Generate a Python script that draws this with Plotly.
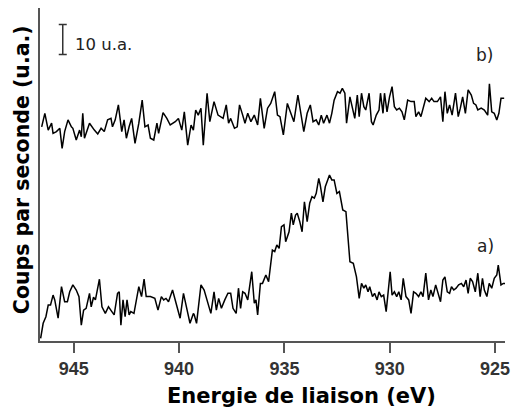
import plotly.graph_objects as go

# spectre b) (haut)
energie_b = [946.52, 946.37, 946.21, 946.05, 945.98, 945.82, 945.66, 945.55, 945.43, 945.27,
             945.11, 945.04, 944.88, 944.72, 944.64, 944.57, 944.49, 944.25, 944.02, 943.86,
             943.70, 943.55, 943.39, 943.23, 943.16, 943.03, 942.88, 942.72, 942.61, 942.50,
             942.37, 942.25, 942.09, 941.91, 941.75, 941.62, 941.47, 941.36, 941.20, 941.05,
             940.97, 940.76, 940.58, 940.42, 940.18, 940.03, 939.87, 939.75, 939.59, 939.43,
             939.32, 939.21, 939.09, 938.96, 938.85, 938.67, 938.54, 938.34, 938.15, 938.02,
             937.91, 937.76, 937.65, 937.55, 937.37, 937.24, 937.13, 936.98, 936.87, 936.74,
             936.59, 936.43, 936.27, 936.14, 935.96, 935.80, 935.65, 935.46, 935.33, 935.21,
             935.05, 934.86, 934.71, 934.55, 934.36, 934.21, 934.08, 933.92, 933.77, 933.64,
             933.49, 933.37, 933.25, 933.14, 932.98, 932.86, 932.75, 932.64, 932.48, 932.36,
             932.25, 932.13, 932.05, 931.89, 931.73, 931.66, 931.54, 931.45, 931.34, 931.23,
             931.14, 930.98, 930.87, 930.79, 930.64, 930.51, 930.44, 930.32, 930.25, 930.13,
             930.01, 929.89, 929.78, 929.67, 929.54, 929.42, 929.31, 929.15, 928.99, 928.84,
             928.76, 928.63, 928.52, 928.42, 928.29, 928.13, 928.01, 927.90, 927.74, 927.59,
             927.48, 927.38, 927.27, 927.16, 927.04, 926.88, 926.75, 926.65, 926.54, 926.41,
             926.28, 926.13, 926.02, 925.91, 925.82, 925.66, 925.51, 925.35, 925.27, 925.16,
             925.04, 924.92, 924.82, 924.72, 924.57]
coups_b = [84.4, 88.9, 83.3, 85.6, 82.2, 82.8, 83.9, 77.2, 82.8, 86.7,
           84.4, 83.9, 80.0, 83.3, 81.1, 88.9, 80.6, 85.6, 83.3, 82.0,
           83.9, 82.8, 86.7, 87.2, 84.4, 86.7, 91.7, 82.8, 86.7, 80.6,
           84.4, 87.2, 78.9, 85.6, 93.3, 84.4, 85.0, 80.6, 80.0, 85.6,
           82.2, 89.1, 87.2, 85.0, 86.1, 87.2, 83.3, 89.4, 78.3, 85.0,
           83.3, 90.0, 88.3, 90.6, 78.3, 95.6, 86.1, 92.8, 88.3, 87.8,
           87.2, 91.7, 85.6, 87.2, 83.9, 84.4, 91.7, 88.3, 85.6, 88.9,
           86.1, 88.3, 85.0, 93.9, 83.9, 90.6, 92.2, 96.1, 88.3, 87.8,
           81.7, 92.2, 88.9, 86.1, 95.0, 88.3, 82.8, 88.9, 91.7, 86.1,
           86.7, 85.0, 88.3, 85.6, 88.3, 85.6, 88.9, 93.3, 96.1, 95.6,
           97.2, 95.6, 85.6, 94.4, 88.9, 87.2, 95.0, 87.8, 95.6, 91.1,
           90.0, 95.6, 86.1, 85.0, 88.3, 90.0, 95.6, 88.9, 95.6, 89.4,
           94.4, 97.8, 91.1, 90.0, 90.6, 89.4, 86.7, 93.3, 92.8, 92.8,
           87.8, 89.4, 87.8, 90.6, 93.9, 92.8, 93.9, 92.8, 92.8, 94.4,
           86.1, 96.1, 88.9, 91.7, 88.3, 95.6, 87.8, 90.6, 94.4, 88.9,
           96.7, 95.0, 92.2, 91.7, 90.0, 90.6, 90.0, 88.3, 98.7, 89.4,
           88.9, 86.7, 88.9, 93.9, 93.9]

# spectre a) (bas)
energie_a = [946.57, 946.45, 946.32, 946.21, 946.10, 945.98, 945.90, 945.74, 945.58, 945.43,
             945.30, 945.19, 945.04, 944.88, 944.75, 944.64, 944.53, 944.41, 944.25, 944.17,
             944.06, 943.97, 943.78, 943.66, 943.50, 943.35, 943.19, 943.08, 942.92, 942.84,
             942.76, 942.66, 942.56, 942.47, 942.37, 942.29, 942.14, 941.91, 941.78, 941.66,
             941.56, 941.36, 941.15, 941.00, 940.84, 940.73, 940.62, 940.50, 940.31, 940.11,
             939.95, 939.79, 939.64, 939.48, 939.32, 939.28, 939.17, 938.96, 938.81, 938.65,
             938.49, 938.34, 938.23, 938.12, 937.99, 937.83, 937.68, 937.55, 937.44, 937.29,
             937.18, 937.08, 936.98, 936.87, 936.74, 936.55, 936.43, 936.35, 936.27, 936.14,
             936.04, 935.88, 935.75, 935.57, 935.46, 935.36, 935.25, 935.14, 935.02, 934.94,
             934.78, 934.67, 934.58, 934.47, 934.39, 934.27, 934.16, 934.05, 933.92, 933.80,
             933.69, 933.58, 933.49, 933.37, 933.30, 933.17, 933.06, 932.86, 932.75, 932.64,
             932.51, 932.39, 932.23, 932.08, 931.89, 931.73, 931.58, 931.45, 931.34, 931.23,
             931.14, 931.03, 930.95, 930.82, 930.72, 930.60, 930.51, 930.40, 930.29, 930.17,
             930.09, 929.98, 929.89, 929.78, 929.67, 929.57, 929.46, 929.36, 929.23, 929.10,
             928.99, 928.87, 928.76, 928.63, 928.52, 928.42, 928.29, 928.16, 928.05, 927.95,
             927.82, 927.69, 927.59, 927.48, 927.38, 927.27, 927.16, 927.07, 926.96, 926.85,
             926.73, 926.60, 926.49, 926.38, 926.28, 926.18, 926.07, 925.94, 925.82, 925.71,
             925.60, 925.51, 925.39, 925.28, 925.16, 925.04, 924.92, 924.85, 924.72, 924.61,
             924.53]
coups_a = [13.9, 18.9, 21.1, 25.0, 25.0, 28.3, 26.7, 20.6, 31.1, 26.1,
           26.1, 29.4, 31.7, 30.0, 27.8, 18.3, 23.3, 23.9, 28.9, 24.4,
           27.6, 26.7, 33.6, 24.4, 22.2, 24.4, 22.8, 21.7, 28.9, 29.4,
           18.3, 26.7, 21.1, 26.7, 21.7, 22.8, 22.2, 31.1, 27.8, 33.6,
           27.8, 27.8, 27.2, 23.3, 27.8, 26.7, 27.2, 26.1, 30.0, 24.4,
           20.6, 28.9, 23.9, 18.9, 22.2, 21.7, 18.9, 31.7, 30.0, 25.6,
           22.2, 29.4, 23.3, 27.2, 23.9, 26.7, 28.9, 28.9, 23.9, 22.2,
           30.6, 23.9, 29.4, 28.9, 26.7, 36.1, 25.6, 26.7, 21.7, 32.2,
           32.2, 35.0, 32.8, 43.3, 42.8, 45.0, 43.9, 51.1, 51.7, 46.1,
           49.4, 55.6, 51.7, 55.0, 55.6, 52.8, 49.4, 59.4, 52.8, 58.9,
           61.1, 60.6, 62.2, 67.2, 65.0, 59.4, 64.4, 68.3, 66.7, 66.7,
           62.2, 62.8, 56.7, 56.1, 39.4, 38.9, 34.4, 27.2, 32.2, 30.6,
           31.7, 29.4, 31.1, 27.8, 28.9, 26.7, 29.4, 27.8, 28.3, 22.8,
           28.9, 36.1, 28.3, 29.4, 27.8, 29.4, 26.7, 33.9, 27.8, 26.7,
           22.2, 29.4, 28.9, 27.8, 29.4, 27.8, 35.6, 26.7, 30.0, 27.8,
           31.7, 28.9, 26.1, 33.3, 34.4, 29.4, 28.9, 31.1, 30.0, 30.6,
           31.7, 32.2, 31.1, 33.3, 28.9, 33.9, 32.8, 29.4, 35.6, 27.8,
           33.9, 30.0, 27.8, 32.2, 30.6, 33.9, 35.0, 38.3, 31.7, 32.2,
           32.2]

# barre d'echelle : 10 u.a.
barre_x = 945.52
barre_bas = 108.5
barre_haut = 118.5

fig = go.Figure()
fig.add_trace(go.Scatter(x=energie_b, y=coups_b, mode="lines",
                         line=dict(color="black", width=1.5)))
fig.add_trace(go.Scatter(x=energie_a, y=coups_a, mode="lines",
                         line=dict(color="black", width=1.5)))
fig.add_trace(go.Scatter(x=[barre_x], y=[(barre_bas + barre_haut) / 2], mode="markers",
                         marker=dict(size=0.1, color="#333"),
                         error_y=dict(type="constant", value=(barre_haut - barre_bas) / 2,
                                      color="#333", thickness=1.5, width=4)))

fig.add_annotation(x=945.05, y=112, text="10 u.a.", showarrow=False, xanchor="left",
                   font=dict(family="DejaVu Sans", size=16.5, color="#222"))
fig.add_annotation(x=925.5, y=108.3, text="b)", showarrow=False,
                   font=dict(family="DejaVu Sans", size=17, color="#222"))
fig.add_annotation(x=925.45, y=44.7, text="a)", showarrow=False,
                   font=dict(family="DejaVu Sans", size=17, color="#222"))

# titres d'axes
fig.add_annotation(xref="paper", yref="paper", x=0.562, y=-0.165, yanchor="middle",
                   text="<b>Energie de liaison (eV)</b>", showarrow=False,
                   font=dict(family="DejaVu Sans", size=21, color="black"))
fig.add_annotation(xref="paper", yref="paper", x=-0.038, y=0.514, xanchor="center",
                   textangle=-90, text="<b>Coups par seconde (u.a.)</b>", showarrow=False,
                   font=dict(family="DejaVu Sans", size=20.5, color="black"))

fig.update_layout(width=517, height=410, showlegend=False,
                  margin=dict(l=40, r=7, t=8, b=69),
                  plot_bgcolor="white", paper_bgcolor="white")
fig.update_xaxes(range=[946.6, 924.53], tickvals=[945, 940, 935, 930, 925],
                 ticks="outside", ticklen=10, tickwidth=1.5, tickcolor="#555",
                 showline=True, linecolor="#555", linewidth=2,
                 showgrid=False, zeroline=False,
                 tickfont=dict(family="Liberation Sans", size=18, color="#333", weight="bold"))
fig.update_yaxes(range=[13, 124], showticklabels=False, ticks="",
                 showline=True, linecolor="#555", linewidth=2,
                 showgrid=False, zeroline=False)

# la page html a une marge de 8px par defaut
fig.write_html("out.html", config={"displayModeBar": False},
               post_script="document.body.style.margin='0';")
